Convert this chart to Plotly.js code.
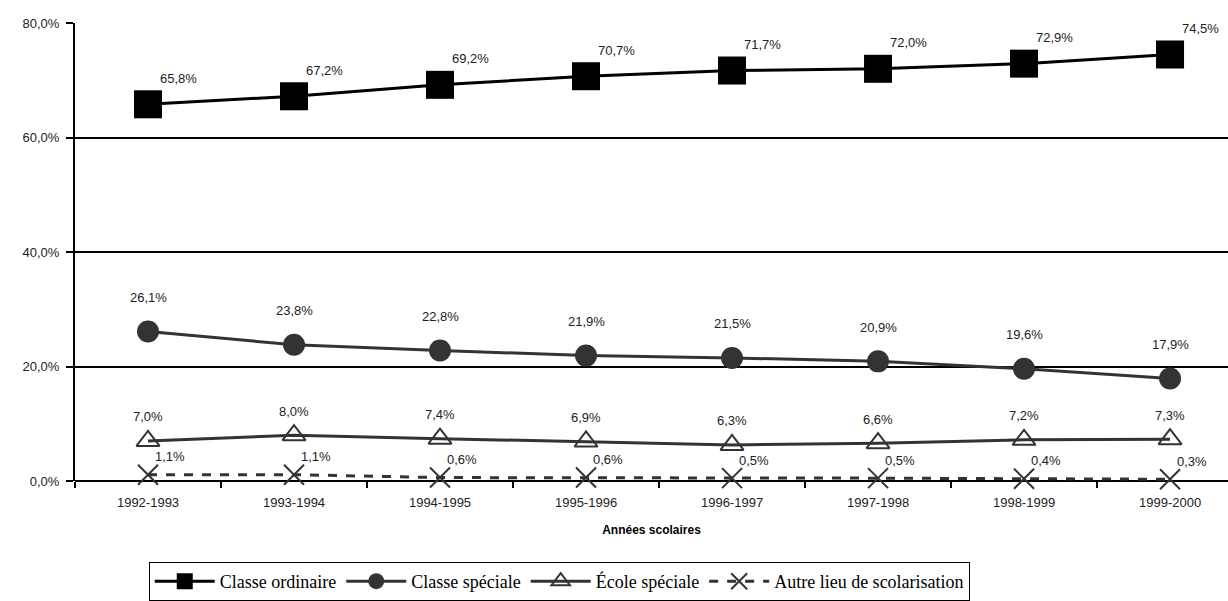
<!DOCTYPE html>
<html>
<head>
<meta charset="utf-8">
<script src="https://cdn.plot.ly/plotly-3.0.1.min.js"></script>
<style>html,body{margin:0;padding:0;background:#fff;}#chart{width:1228px;height:601px;}</style>
</head>
<body>
<div id="chart"></div>
<script>
const years = ["1992-1993","1993-1994","1994-1995","1995-1996","1996-1997","1997-1998","1998-1999","1999-2000"];
const classeOrdinaire = [65.8, 67.2, 69.2, 70.7, 71.7, 72.0, 72.9, 74.5];
const classeSpeciale = [26.1, 23.8, 22.8, 21.9, 21.5, 20.9, 19.6, 17.9];
const ecoleSpeciale = [7.0, 8.0, 7.4, 6.9, 6.3, 6.6, 7.2, 7.3];
const autreLieu = [1.1, 1.1, 0.6, 0.6, 0.5, 0.5, 0.4, 0.3];
const seriesNames = ["Classe ordinaire", "Classe spéciale", "École spéciale", "Autre lieu de scolarisation"];

const fmt = v => v.toFixed(1).replace('.', ',') + '%';

const traces = [
  {x: years, y: classeOrdinaire, name: seriesNames[0], mode: 'lines+markers', cliponaxis: false,
   line: {color: '#000', width: 3}, marker: {symbol: 'square', size: 28, color: '#000'}},
  {x: years, y: classeSpeciale, name: seriesNames[1], mode: 'lines+markers', cliponaxis: false,
   line: {color: '#333', width: 3}, marker: {symbol: 'circle', size: 22, color: '#333'}},
  {x: years, y: ecoleSpeciale, name: seriesNames[2], mode: 'lines+markers', cliponaxis: false,
   line: {color: '#333', width: 3}, marker: {symbol: 'triangle-up-open', size: 20, color: '#333', line: {width: 2, color: '#333'}}},
  {x: years, y: autreLieu, name: seriesNames[3], mode: 'lines+markers', cliponaxis: false,
   line: {color: '#333', width: 3, dash: 'dash'}, marker: {symbol: 'x-thin-open', size: 20, color: '#333', line: {width: 2, color: '#333'}}}
];

const labelFont = {family: 'Liberation Sans, Arial, sans-serif', size: 13, color: '#222'};
const annotations = [];
const addLabels = (vals, xs, ys) => vals.forEach((v, i) => annotations.push({
  x: years[i], y: v, xref: 'x', yref: 'y', text: fmt(v), showarrow: false,
  xshift: xs, yshift: ys, font: labelFont
}));
addLabels(classeOrdinaire, 30, 26);
addLabels(classeSpeciale, 0, 34);
addLabels(ecoleSpeciale, 0, 24);
addLabels(autreLieu, 22, 18);

const layout = {
  width: 1228, height: 601,
  margin: {l: 75, r: 0, t: 23, b: 119},
  paper_bgcolor: '#fff', plot_bgcolor: '#fff',
  separators: ', ',
  showlegend: true,
  font: {family: 'Liberation Sans, Arial, sans-serif', size: 13, color: '#222'},
  xaxis: {
    type: 'category', range: [-0.5, 7.397],
    showline: false, showgrid: false, zeroline: false,
    ticks: 'outside', tickson: 'boundaries', ticklen: 6, tickwidth: 2, tickcolor: '#000',
    ticklabelstandoff: 12,
    tickfont: {size: 13, color: '#222'},
    title: {text: '<b>Années scolaires</b>', font: {size: 12, color: '#000'}, standoff: 16}
  },
  yaxis: {
    range: [0, 80], dtick: 20, tick0: 0,
    tickformat: '.1f', ticksuffix: '%',
    showline: true, linecolor: '#000', linewidth: 2,
    showgrid: true, gridcolor: '#000', gridwidth: 2,
    zeroline: true, zerolinecolor: '#000', zerolinewidth: 2,
    ticks: 'outside', ticklen: 7, tickwidth: 2, tickcolor: '#000',
    ticklabelstandoff: 4,
    tickfont: {size: 13, color: '#222'}
  },
  legend: {
    orientation: 'h', x: 0.42, xanchor: 'center', y: -0.176, yanchor: 'top',
    bordercolor: '#000', borderwidth: 1, bgcolor: '#fff',
    font: {family: 'Liberation Serif, Times New Roman, serif', size: 18, color: '#000'},
    itemwidth: 60, tracegroupgap: 0
  },
  annotations: annotations
};

Plotly.newPlot('chart', traces, layout, {displayModeBar: false, staticPlot: true});
</script>
</body>
</html>
